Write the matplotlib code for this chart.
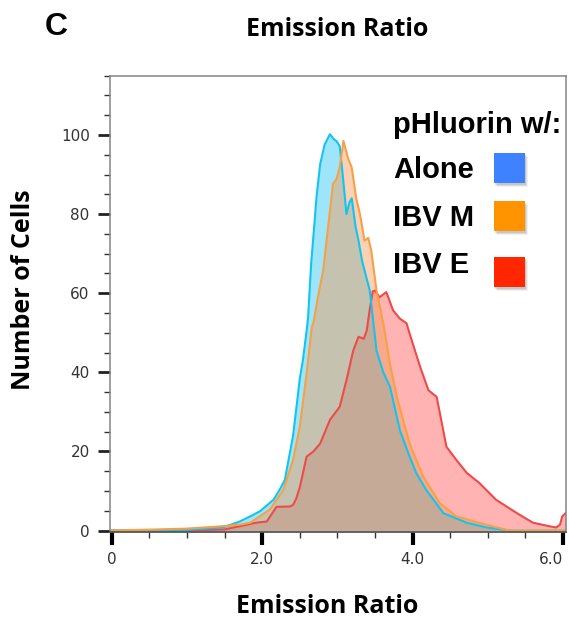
import matplotlib
matplotlib.use("Agg")
import matplotlib.pyplot as plt
from matplotlib.patches import Rectangle
import numpy as np

# histogram traces (emission ratio vs number of cells)
alone_x = [0.0, 0.99, 1.48, 1.70, 1.84, 1.97, 2.15, 2.23, 2.30, 2.41, 2.50, 2.54, 2.59,
           2.61, 2.65, 2.70, 2.72, 2.77, 2.83, 2.90, 2.95, 2.99, 3.03, 3.07, 3.12, 3.16,
           3.19, 3.24, 3.28, 3.33, 3.43, 3.52, 3.61, 3.70, 3.83, 3.96, 4.05, 4.18, 4.41,
           4.72, 4.98, 5.30, 6.04]
alone_y = [0, 0.2, 0.8, 2.3, 3.6, 4.9, 7.8, 10.3, 12.8, 24.0, 38.5, 43.0, 50.5,
           54.0, 67.4, 79.0, 84.0, 92.6, 97.6, 100.2, 99.0, 98.4, 97.2, 90.0, 80.0, 83.0,
           84.0, 77.0, 73.3, 68.0, 60.7, 45.5, 40.0, 36.3, 25.4, 18.7, 14.5, 10.3, 4.4,
           2.0, 0.8, 0, 0]

ibvm_x = [0.0, 0.99, 1.39, 1.70, 1.84, 2.10, 2.28, 2.41, 2.50, 2.59, 2.66, 2.68, 2.74,
          2.81, 2.88, 2.92, 2.94, 2.99, 3.03, 3.08, 3.14, 3.19, 3.25, 3.30, 3.36, 3.41,
          3.45, 3.52, 3.61, 3.70, 3.79, 3.96, 4.14, 4.36, 4.58, 4.98, 5.29, 6.04]
ibvm_y = [0, 0.5, 1.0, 1.5, 2.0, 5.3, 10.3, 17.9, 26.3, 39.7, 51.5, 52.4, 59.0,
          65.7, 77.5, 84.0, 87.6, 89.0, 91.8, 98.5, 94.2, 91.8, 84.0, 80.0, 73.3, 74.0,
          70.8, 60.7, 52.4, 42.0, 33.8, 22.0, 13.7, 7.0, 3.6, 1.5, 0, 0]

ibve_x = [0.0, 1.00, 1.50, 1.92, 2.06, 2.19, 2.37, 2.41, 2.45, 2.50, 2.59, 2.68, 2.77,
          2.90, 3.03, 3.12, 3.21, 3.28, 3.35, 3.39, 3.43, 3.47, 3.50, 3.56, 3.65, 3.74,
          3.83, 3.92, 3.96, 4.10, 4.21, 4.32, 4.45, 4.58, 4.72, 4.89, 5.11, 5.38, 5.60,
          5.82, 5.91, 5.96, 5.99, 6.04]
ibve_y = [0, 0, 0.3, 2.0, 2.3, 6.0, 6.1, 6.5, 8.0, 11.0, 18.7, 20.0, 22.0,
          28.0, 31.3, 38.0, 45.5, 49.0, 48.5, 50.6, 56.0, 60.5, 60.7, 59.0, 60.3, 55.7,
          53.6, 52.4, 49.8, 41.4, 35.5, 33.8, 21.2, 17.9, 14.6, 12.0, 7.8, 4.5, 2.0,
          1.1, 0.8, 1.5, 3.6, 4.5]

legend_labels = ["Alone", "IBV M", "IBV E"]
legend_colors = ["#3f82ff", "#ff9400", "#ff2600"]

W, H = 569, 622
fig = plt.figure(figsize=(W / 100, H / 100), dpi=100)
ax = fig.add_axes([110 / W, 1 - 532 / H, (566 - 110) / W, (532 - 75.7) / H])

# drawing order: red at the bottom, cyan, orange on top
traces = [
    (ibve_x, ibve_y, "#ff4343", "#ee4a4a"),
    (alone_x, alone_y, "#11c0f2", "#12c4f0"),
    (ibvm_x, ibvm_y, "#f49b59", "#f6a146"),
]
alphas = [0.4, 0.4, 0.45]
for (x, y, fc, lc), a in zip(traces, alphas):
    ax.fill_between(x, 0, y, color=fc, alpha=a, linewidth=0)
    ax.plot(x, y, color=lc, linewidth=1.5)

ax.set_xlim(-0.025, 6.04)
ax.set_ylim(-0.35, 115)

ax.set_xticks([0, 2, 4, 6])
ax.set_xticklabels(["0", "2.0", "4.0", "6.0"])
ax.set_xticks(np.arange(0, 6.01, 0.5), minor=True)
ax.set_yticks([0, 20, 40, 60, 80, 100])
ax.set_yticks(np.arange(0, 116, 5), minor=True)

ax.tick_params(axis="x", which="major", length=9.4, width=3, color="black",
               labelsize=11, labelcolor="#333333", pad=5)
ax.tick_params(axis="y", which="major", length=8.6, width=2, color="#222222",
               labelsize=11, labelcolor="#333333", pad=6)
ax.tick_params(which="minor", length=4.5, width=1, color="#333333")
# last label sits against the right edge
ax.get_xticklabels()[-1].set_horizontalalignment("right")

for s in ["left", "top", "right"]:
    ax.spines[s].set_color("#858585")
    ax.spines[s].set_linewidth(1.1)
ax.spines["bottom"].set_color("#555555")
ax.spines["bottom"].set_linewidth(1.3)

# texts
lab_font = dict(fontfamily="Open Sans", fontweight="bold", fontsize=18)
fig.text(56 / W, 1 - 35 / H, "C", fontfamily="Liberation Sans", fontweight="bold",
         fontsize=23, ha="center", va="baseline")
fig.text(337 / W, 1 - 36 / H, "Emission Ratio", ha="center", va="baseline", **lab_font)
fig.text(327 / W, 1 - 613 / H, "Emission Ratio", ha="center", va="baseline", **lab_font)
fig.text(24 / W, 1 - 290 / H, "Number of Cells", ha="center", va="center",
         rotation=90, **lab_font)

# legend drawn by hand: header, labels and shadowed squares
fig.text(393 / W, 1 - 133 / H, "pHluorin w/:", fontfamily="Liberation Sans",
         fontweight="bold", fontsize=21, ha="left", va="baseline")
label_base = [178, 226, 273]
square_top = [153, 201, 257]
for lab, col, yb, yt in zip(legend_labels, legend_colors, label_base, square_top):
    fig.text(393 / W, 1 - yb / H, lab, fontfamily="Liberation Sans", fontweight="bold",
             fontsize=21, ha="left", va="baseline")
    for k, sa in enumerate([0.10, 0.08, 0.06]):
        d = 1 + k
        fig.patches.append(Rectangle(((494 + d) / W, 1 - (yt + 30 + d + 1) / H),
                                     31 / W, 30 / H, transform=fig.transFigure,
                                     facecolor="black", alpha=sa, linewidth=0))
    fig.patches.append(Rectangle((494 / W, 1 - (yt + 30) / H), 31 / W, 30 / H,
                                 transform=fig.transFigure, facecolor=col, linewidth=0))

fig.savefig("out.png", dpi=100)
